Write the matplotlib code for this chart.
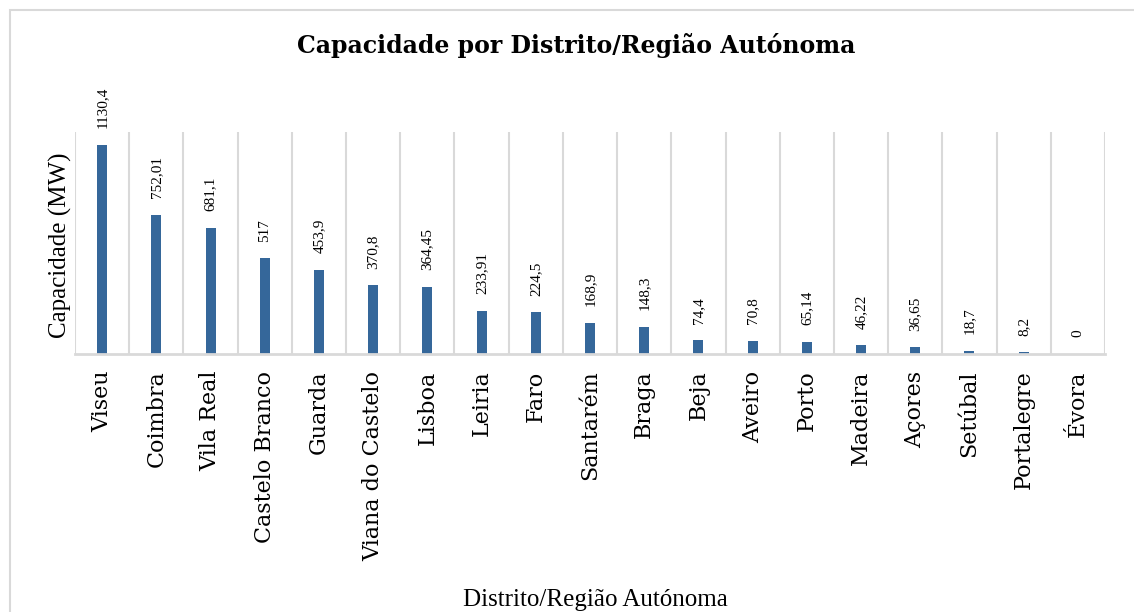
import matplotlib.pyplot as plt
from matplotlib.patches import Rectangle

distritos = ["Viseu", "Coimbra", "Vila Real", "Castelo Branco", "Guarda",
             "Viana do Castelo", "Lisboa", "Leiria", "Faro", "Santarém",
             "Braga", "Beja", "Aveiro", "Porto", "Madeira", "Açores",
             "Setúbal", "Portalegre", "Évora"]
capacidade = [1130.4, 752.01, 681.1, 517, 453.9, 370.8, 364.45, 233.91, 224.5,
              168.9, 148.3, 74.4, 70.8, 65.14, 46.22, 36.65, 18.7, 8.2, 0]

bar_color = "#35679a"
grid_color = "#d9d9d9"


def main():
    fig = plt.figure(figsize=(11.34, 6.12), dpi=100)
    fig.patches.append(Rectangle((10 / 1134, -0.1), 1.2, 1.1 - 10 / 612,
                                 transform=fig.transFigure, fill=False,
                                 edgecolor=grid_color, linewidth=1.5))
    ax = fig.add_axes([75 / 1134, 1 - 354 / 612, (1105 - 75) / 1134, (354 - 132) / 612])

    x = list(range(len(distritos)))
    bars = ax.bar(x, capacidade, width=0.185, color=bar_color, zorder=3)

    for b, v in zip(bars, capacidade):
        label = f"{v:g}".replace(".", ",")
        ax.annotate(label, (b.get_x() + b.get_width() / 2, v),
                    xytext=(0, 12), textcoords="offset points",
                    rotation=90, ha="center", va="bottom",
                    fontsize=11, family="Liberation Serif")

    ax.set_xlim(-0.5, len(distritos) - 0.5)
    ax.set_ylim(0, 1200)
    ax.set_yticks([])
    ax.set_xticks(x)
    ax.set_xticklabels(distritos, rotation=90, fontsize=16, family="DejaVu Serif")
    ax.tick_params(axis="x", length=0, pad=12)
    for xb in range(len(distritos) + 1):
        ax.axvline(xb - 0.5, color=grid_color, linewidth=1.5, zorder=1)

    for s in ["top", "right", "left"]:
        ax.spines[s].set_visible(False)
    ax.spines["bottom"].set_color(grid_color)
    ax.spines["bottom"].set_linewidth(2)
    ax.spines["bottom"].set_zorder(4)

    fig.text(595 / 1134, 1 - 600 / 612, "Distrito/Região Autónoma",
             ha="center", va="center", fontsize=18, family="Liberation Serif")
    fig.text(60 / 1134, 1 - 245 / 612, "Capacidade (MW)", rotation=90,
             ha="center", va="center", fontsize=18, family="Liberation Serif")
    fig.text(576 / 1134, 1 - 46 / 612, "Capacidade por Distrito/Região Autónoma",
             ha="center", va="center", fontsize=17, fontweight="bold",
             family="DejaVu Serif")

    fig.savefig("out.png", dpi=100)


if __name__ == "__main__":
    main()
